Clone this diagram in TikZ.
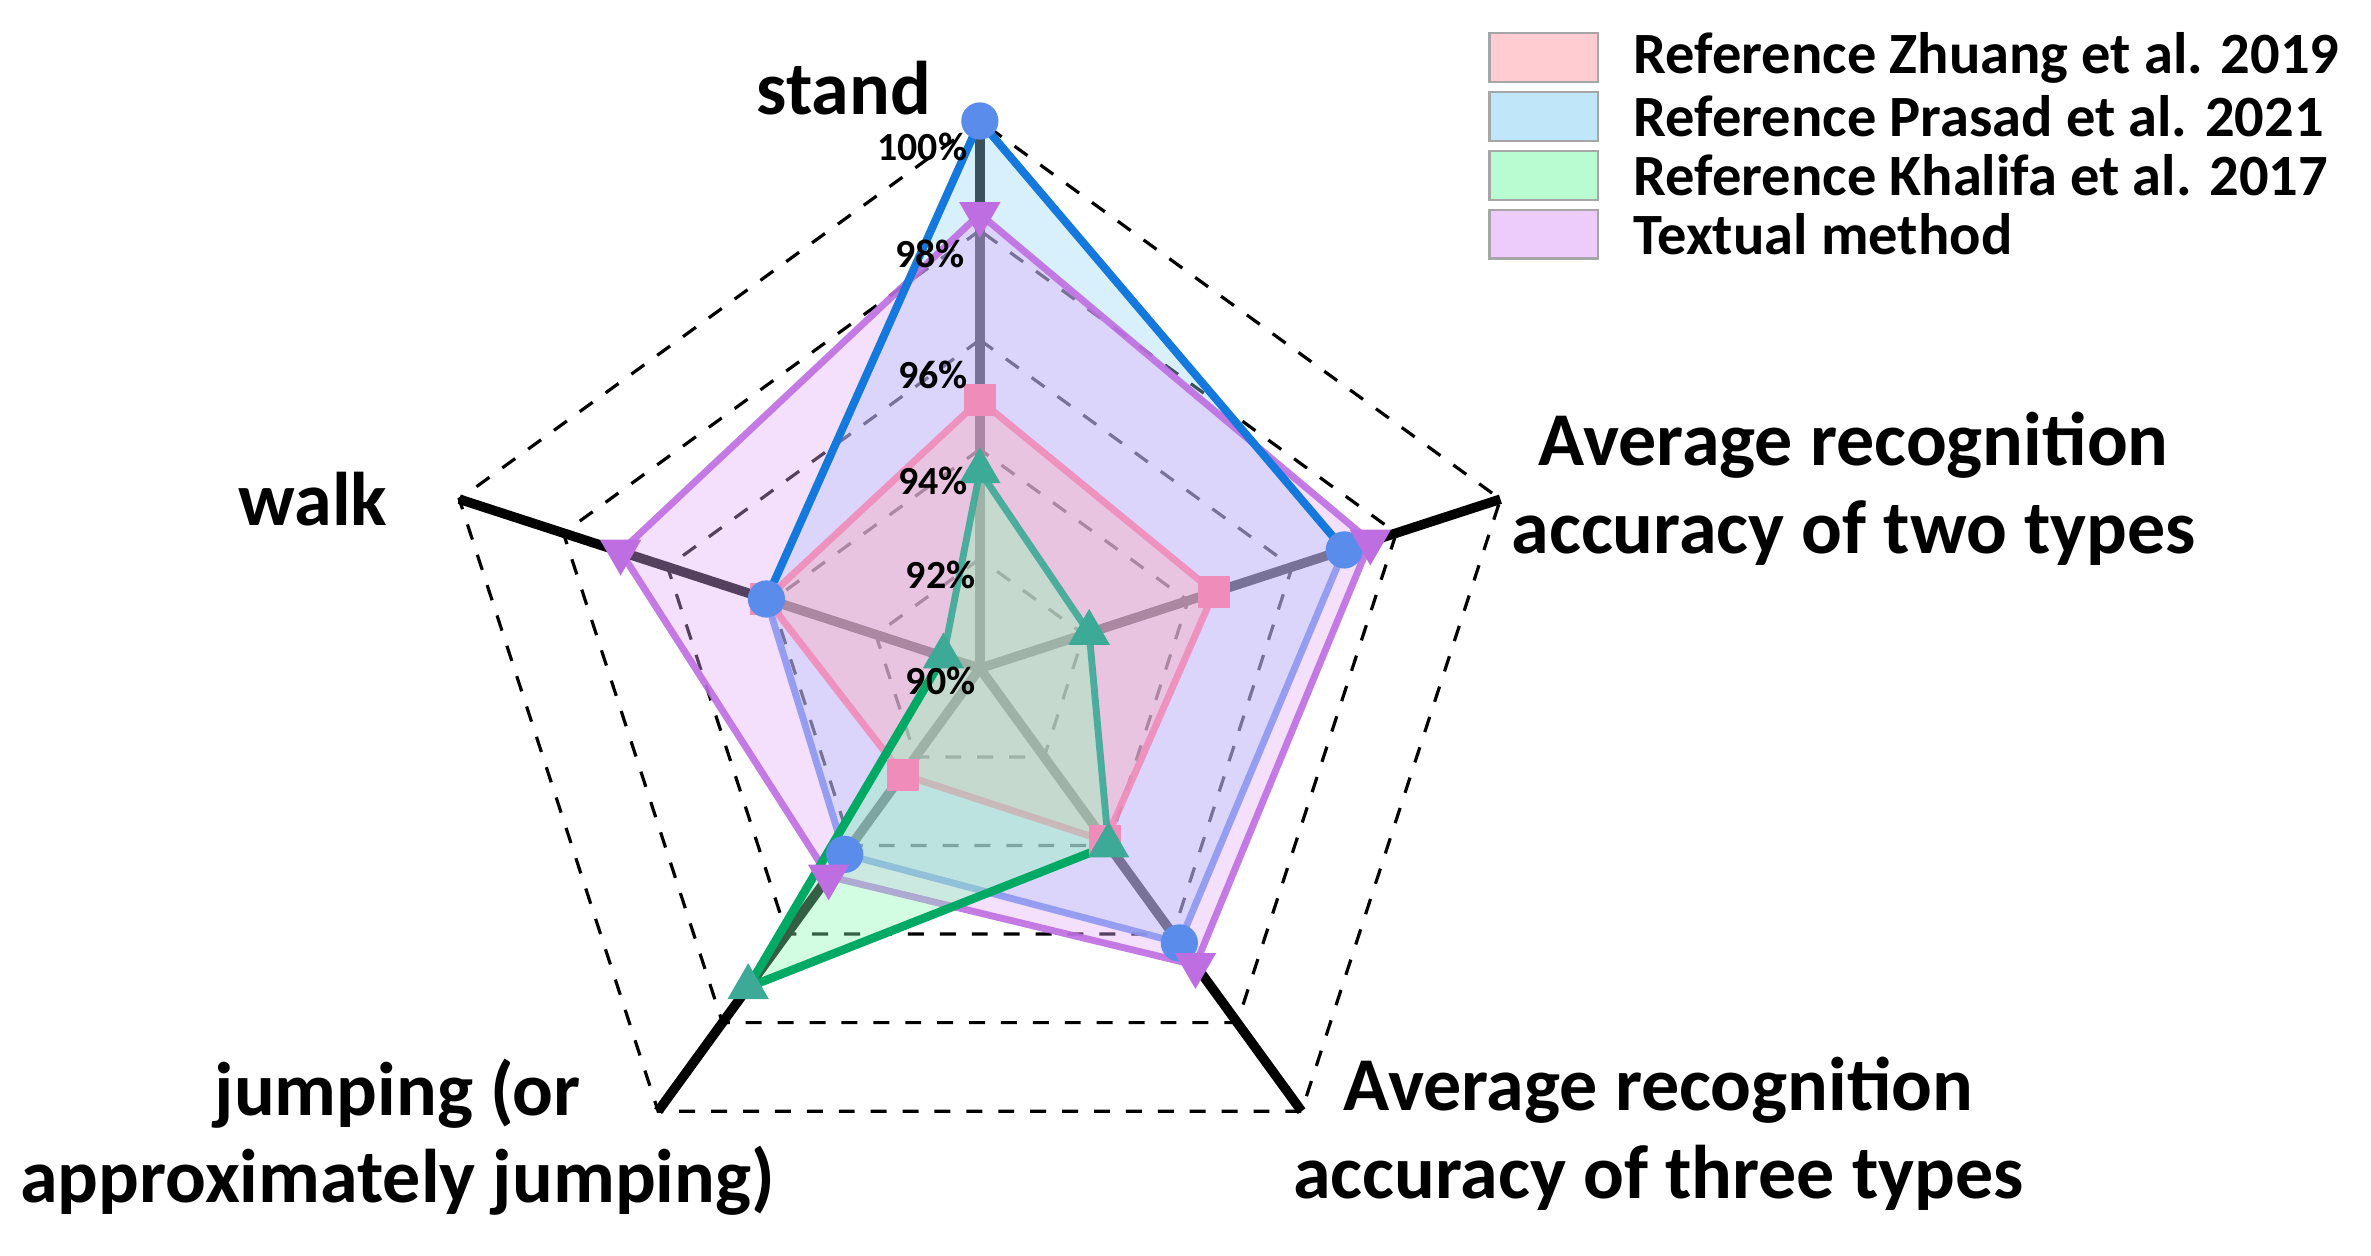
\documentclass[tikz,border=0pt]{standalone}
\usepackage{fontspec}
\setmainfont{Carlito}
\usetikzlibrary{shapes.geometric,calc}
\begin{document}
\begin{tikzpicture}[x=0.01cm,y=0.01cm,
  lab/.style={font=\bfseries\fontsize{14.3}{16.5}\selectfont,align=center},
  pct/.style={font=\bfseries\fontsize{7.5}{8}\selectfont},
  leg/.style={font=\bfseries\fontsize{11}{12}\selectfont,anchor=west},
  ring/.style={dashed,line width=0.6pt},
  ser/.style={line width=1.3pt,fill opacity=0.38},
  mk/.style={inner sep=0pt,minimum size=7pt}]
\definecolor{pkL}{RGB}{240,140,185}\definecolor{pkF}{RGB}{255,170,180}
\definecolor{blL}{RGB}{90,140,235}\definecolor{blF}{RGB}{150,215,245}
\definecolor{grL}{RGB}{60,170,150}\definecolor{grF}{RGB}{140,250,180}
\definecolor{viL}{RGB}{190,110,225}\definecolor{viF}{RGB}{225,170,250}
\useasboundingbox (0,0) rectangle (1568,830);
\coordinate (c) at (648,388);
% rings
\foreach \k in {1,...,5}{
  \pgfmathsetmacro\r{72.4*\k}
  \draw[ring] ($(c)+(90:\r)$) -- ($(c)+(162:\r)$) -- ($(c)+(234:\r)$) -- ($(c)+(306:\r)$) -- ($(c)+(18:\r)$) -- cycle;}
% axes
\foreach \a in {90,162,234,306,18}{\draw[line width=1.8pt] (c) -- ($(c)+(\a:362)$);}
% series macro
\newcommand\mypoly[7]{%
 \coordinate (#1a) at ($(c)+(90:{(#3-90)*36.2})$);
 \coordinate (#1b) at ($(c)+(18:{(#4-90)*36.2})$);
 \coordinate (#1c) at ($(c)+(306:{(#5-90)*36.2})$);
 \coordinate (#1d) at ($(c)+(234:{(#6-90)*36.2})$);
 \coordinate (#1e) at ($(c)+(162:{(#7-90)*36.2})$);
 \filldraw[ser,draw=#2L,fill=#2F,draw opacity=0.9] (#1a)--(#1b)--(#1c)--(#1d)--(#1e)--cycle;}
\mypoly{B}{bl}{100}{97.0}{96.2}{94.2}{94.1}
\mypoly{V}{vi}{98.3}{97.5}{96.7}{94.7}{96.9}
\mypoly{P}{pk}{94.9}{94.5}{93.9}{92.4}{94.1}
\mypoly{G}{gr}{93.6}{92.1}{94.0}{97.2}{90.7}
\draw[line width=1.5pt,color={rgb,255:red,20;green,120;blue,220}] (Be)--(Ba)--(Bb);
\draw[line width=1.6pt,color={rgb,255:red,0;green,170;blue,100}] (Gc)--(Gd)--(Ge);
\foreach \p in {a,b,c,d,e}{
  \node[mk,fill=pkL,rectangle,minimum size=6pt] at (P\p) {};
  \node[mk,fill=blL,circle] at (B\p) {};
  \node[mk,fill=grL,regular polygon,regular polygon sides=3,minimum size=9pt] at (G\p) {};
  \node[mk,fill=viL,regular polygon,regular polygon sides=3,shape border rotate=180,minimum size=9pt] at (V\p) {};}
% percent labels
\node[pct] (p100) at (610,733) {100\%};
\node[pct] (p98) at (615,662) {98\%};
\node[pct] (p96) at (617,582) {96\%};
\node[pct] (p94) at (617,512) {94\%};
\node[pct] (p92) at (622,450) {92\%};
\node[pct] (p90) at (622,380) {90\%};
% axis labels
\node[lab] (ls) at (558,772) {stand};
\node[lab] (lw) at (207,500) {walk};
\node[lab] (l2) at (1226,507) {Average recognition\\accuracy of two types};
\node[lab] (lj) at (263,78) {jumping (or\\approximately jumping)};
\node[lab] (l3) at (1097,80) {Average recognition\\accuracy of three types};
% legend
\foreach \i/\col/\t in {0/pk/Reference Zhuang et al. 2019,1/bl/Reference Prasad et al. 2021,2/gr/Reference Khalifa et al. 2017,3/vi/Textual method}{
  \draw[draw=gray!70,fill=\col F,fill opacity=0.6] (985,{808-\i*39}) rectangle (1057,{776-\i*39});
  \node[leg] at (1068,{792-\i*39}) {\t};}
\end{tikzpicture}
\end{document}
